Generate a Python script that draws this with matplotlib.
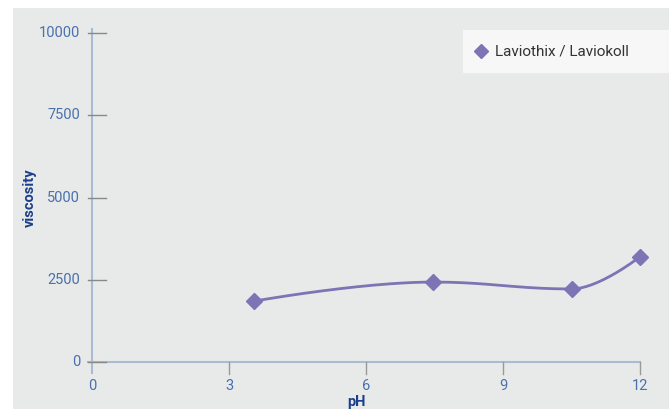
import numpy as np
import matplotlib
matplotlib.use('Agg')
from matplotlib import pyplot as plt
from matplotlib.patches import Rectangle

plt.rcParams['font.family'] = ['Roboto', 'DejaVu Sans']

# data
ph = [3.55, 7.47, 10.5, 12.0]
viscosity = [1850, 2430, 2220, 3200]
series_name = 'Laviothix / Laviokoll'
x_ticks = [0, 3, 6, 9, 12]
y_ticks = [0, 2500, 5000, 7500, 10000]

line_col = '#7d73b5'
tick_col = '#4a70ad'
label_col = '#1c3f8b'
axis_col = '#a9bbd3'
panel_col = '#e8eaea'


def smooth_line(x, y, smoothing=1.5, n=60):
    # bezier spline like the charting lib draws (control points from neighbours)
    x = np.asarray(x, float); y = np.asarray(y, float)
    k = len(x)
    lc = [(x[i], y[i]) for i in range(k)]
    rc = [(x[i], y[i]) for i in range(k)]
    d = smoothing + 1
    for i in range(1, k - 1):
        lx = (smoothing * x[i] + x[i - 1]) / d
        ly = (smoothing * y[i] + y[i - 1]) / d
        rx = (smoothing * x[i] + x[i + 1]) / d
        ry = (smoothing * y[i] + y[i + 1]) / d
        if rx != lx:
            corr = (ry - ly) * (rx - x[i]) / (rx - lx) + y[i] - ry
            ly += corr; ry += corr
        if ly > y[i - 1] and ly > y[i]:
            ly = max(y[i - 1], y[i]); ry = 2 * y[i] - ly
        elif ly < y[i - 1] and ly < y[i]:
            ly = min(y[i - 1], y[i]); ry = 2 * y[i] - ly
        if ry > y[i + 1] and ry > y[i]:
            ry = max(y[i + 1], y[i]); ly = 2 * y[i] - ry
        elif ry < y[i + 1] and ry < y[i]:
            ry = min(y[i + 1], y[i]); ly = 2 * y[i] - ry
        lc[i] = (lx, ly); rc[i] = (rx, ry)
    t = np.linspace(0, 1, n)[:, None]
    pts = []
    for i in range(1, k):
        p0 = np.array([x[i - 1], y[i - 1]]); p1 = np.array(rc[i - 1])
        p2 = np.array(lc[i]); p3 = np.array([x[i], y[i]])
        seg = (1 - t)**3 * p0 + 3 * (1 - t)**2 * t * p1 + 3 * (1 - t) * t**2 * p2 + t**3 * p3
        pts.append(seg)
    pts = np.vstack(pts)
    return pts[:, 0], pts[:, 1]


W, H = 671, 409
fig = plt.figure(figsize=(W / 100, H / 100), dpi=100)
# panel spans px 13..669 horizontally, 8..409 vertically
ax = fig.add_axes([13 / W, 0, 656 / W, 401 / H])
ax.set_facecolor(panel_col)
for s in ax.spines.values():
    s.set_visible(False)
ax.set_xticks([]); ax.set_yticks([])

# data mapping: x 0->px92, 12->px640 ; y 0->px362, 10000->px33
ux = 12 / 548.0
uy = 10000 / 329.0
ax.set_xlim(-(92 - 13) * ux, 12 + (669 - 640) * ux)
ax.set_ylim(-(409 - 362) * uy, 10000 + (33 - 8) * uy)

# axis lines
ax.plot([-4 * ux, 12], [0, 0], color=axis_col, lw=1.5, zorder=2)
ax.plot([0, 0], [-11 * uy, 10000 + 4 * uy], color=axis_col, lw=1.5, zorder=2)

for yv in y_ticks:
    ax.plot([-4 * ux, 14 * ux], [yv, yv], color='#888888', lw=1, zorder=2)
    ax.text(-12 * ux, yv, str(yv), ha='right', va='center', color=tick_col, fontsize=10.5)
for xv in x_ticks:
    if xv != 0:
        ax.plot([xv, xv], [0, -12 * uy], color='#999999', lw=1, zorder=2)
    ax.text(xv, -24 * uy, str(xv), ha='center', va='center', color=tick_col, fontsize=10.5)

ax.text(-(92 - 30) * ux, 5000, 'viscosity', rotation=90, ha='center', va='center',
        color=label_col, fontsize=10.5, fontweight='bold')
ax.text((356 - 92) * ux, -(402 - 362) * uy, 'pH', ha='center', va='center',
        color=label_col, fontsize=10.5, fontweight='bold')

xs, ys = smooth_line(ph, viscosity)
ax.plot(xs, ys, color=line_col, lw=2, zorder=3, solid_capstyle='round')
ax.plot(ph, viscosity, linestyle='none', marker='D', ms=8, color=line_col, zorder=4)

# legend box
fig.patches.append(Rectangle((463 / W, 1 - 73 / H), (669 - 463) / W, 43 / H,
                             transform=fig.transFigure, facecolor='#f7f7f7', edgecolor='none'))
fig.lines.append(plt.Line2D([481 / W], [1 - 51 / H], transform=fig.transFigure, marker='D',
                            ms=7, color=line_col, linestyle='none'))
fig.text(495 / W, 1 - 52 / H, series_name, ha='left', va='center', color='#333333', fontsize=11)

fig.savefig('out.png', dpi=100)
